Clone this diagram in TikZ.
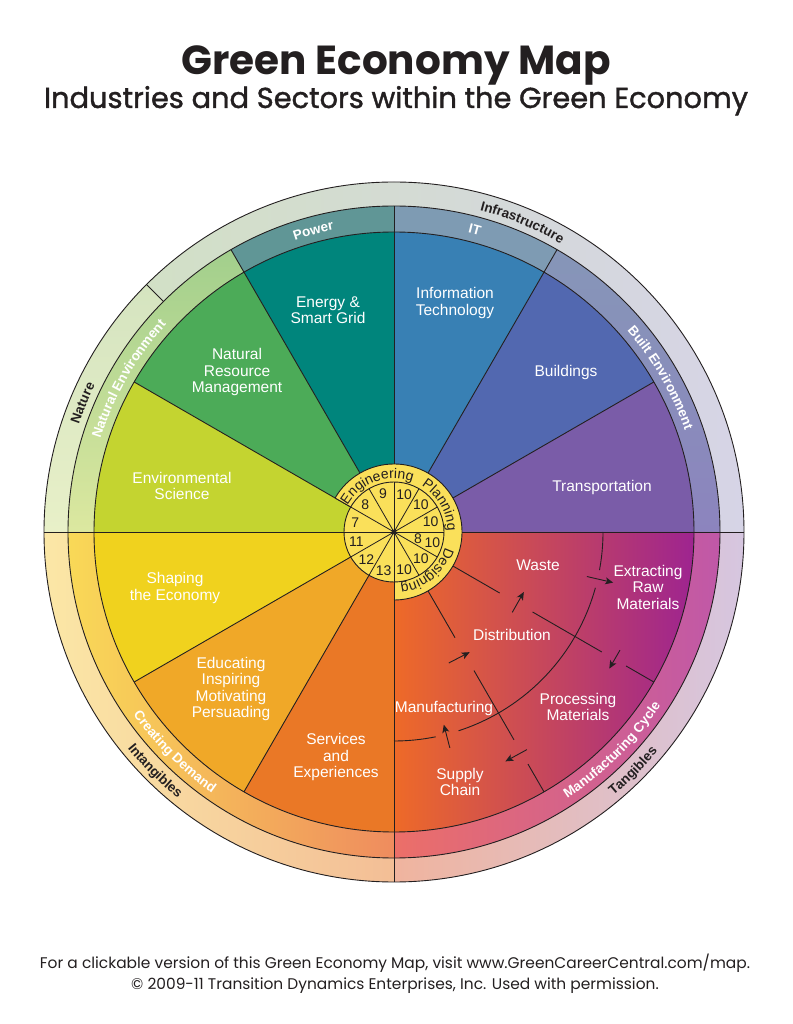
\documentclass[tikz,border=0pt]{standalone}
\usepackage{fontspec}
\setmainfont{Liberation Sans}
\newfontfamily\poppins{Poppins}
\newfontfamily\poppinsm{Poppins}[FakeBold=1.3]
\usetikzlibrary{decorations.text,arrows.meta}
\definecolor{cEnergy}{HTML}{00857C}
\definecolor{cNRM}{HTML}{4CAB58}
\definecolor{cES}{HTML}{C4D430}
\definecolor{cIT}{HTML}{3880B4}
\definecolor{cBuild}{HTML}{5268B0}
\definecolor{cTrans}{HTML}{7A5CA8}
\definecolor{cShape}{HTML}{F0D21E}
\definecolor{cEdu}{HTML}{F0A828}
\definecolor{cServ}{HTML}{EA7826}
\definecolor{cMfgL}{HTML}{EE6A28}
\definecolor{cMfgM}{HTML}{CC4458}
\definecolor{cMfgR}{HTML}{9E2490}
\definecolor{cPower}{HTML}{609696}
\definecolor{cITr}{HTML}{7E9BB3}
\definecolor{cBEt}{HTML}{8696B8}
\definecolor{cBEb}{HTML}{8C84BE}
\definecolor{cNEt}{HTML}{A2CF8C}
\definecolor{cNEb}{HTML}{DCE8A0}
\definecolor{cCDl}{HTML}{F9D957}
\definecolor{cCDr}{HTML}{EF8C5E}
\definecolor{cMCl}{HTML}{EC6F68}
\definecolor{cMCr}{HTML}{C058A8}
\definecolor{cNatT}{HTML}{D5E4C0}
\definecolor{cNatB}{HTML}{E8F0C8}
\definecolor{cInfL}{HTML}{D2E0C6}
\definecolor{cInfR}{HTML}{D6D4E6}
\definecolor{cIntL}{HTML}{FBE7A6}
\definecolor{cIntR}{HTML}{F3BE96}
\definecolor{cTanL}{HTML}{F0B49E}
\definecolor{cTanR}{HTML}{D6C6E0}
\definecolor{cYel}{HTML}{FAE05A}
\definecolor{cInk}{HTML}{231F20}
\newcommand\rfw{\bfseries\fontsize{13.5}{13.5}\selectfont\color{white}}
\newcommand\rfb{\bfseries\fontsize{13.5}{13.5}\selectfont\color{cInk}}
\newcommand\cfn{\fontsize{14}{14}\selectfont\color{cInk}}
\begin{document}
\begin{tikzpicture}[x=1pt,y=1pt,
  ln/.style={line width=0.9pt,draw=cInk},
  annsec/.style n args={4}{insert path={(#3:#2pt) arc[start angle=#3,end angle=#4,radius=#2pt] -- (#4:#1pt) arc[start angle=#4,end angle=#3,radius=#1pt] -- cycle}},
  wdg/.style n args={3}{insert path={(0,0) -- (#2:#1pt) arc[start angle=#2,end angle=#3,radius=#1pt] -- cycle}},
  wlabel/.style={text=white,align=center,font=\fontsize{15.5}{16.5}\selectfont,inner sep=0pt},
  num/.style={font=\fontsize{14}{14}\selectfont,text=cInk,inner sep=0pt},
  arctext/.style={decorate,decoration={text along path,text align=center,text={#1}}},
  cyc/.style={line width=0.9pt,draw=cInk},
  cycarrow/.style={line width=0.9pt,draw=cInk,-{Stealth[length=8pt,width=7pt,inset=2pt]}},
]
\useasboundingbox (-394,-492) rectangle (398,532);
\fill[white] (-394,-492) rectangle (398,532);
% ---- outer ring
\shade[top color=cNatT,bottom color=cNatB,annsec={326}{350}{135}{180}];
\shade[left color=cInfL,right color=cInfR,annsec={326}{350}{0}{135}];
\shade[left color=cIntL,right color=cIntR,annsec={326}{350}{180}{270}];
\shade[left color=cTanL,right color=cTanR,annsec={326}{350}{270}{360}];
% ---- inner ring
\shade[top color=cNEt,bottom color=cNEb,annsec={300}{326}{120}{180}];
\fill[cPower,annsec={300}{326}{90}{120}];
\fill[cITr,annsec={300}{326}{60}{90}];
\shade[top color=cBEt,bottom color=cBEb,annsec={300}{326}{0}{60}];
\shade[left color=cCDl,right color=cCDr,annsec={300}{326}{180}{270}];
\shade[left color=cMCl,right color=cMCr,annsec={300}{326}{270}{360}];
% ---- wedges
\fill[cEnergy,wdg={300}{90}{120}];
\fill[cNRM,wdg={300}{120}{150}];
\fill[cES,wdg={300}{150}{180}];
\fill[cIT,wdg={300}{60}{90}];
\fill[cBuild,wdg={300}{30}{60}];
\fill[cTrans,wdg={300}{0}{30}];
\fill[cShape,wdg={300}{180}{210}];
\fill[cEdu,wdg={300}{210}{240}];
\fill[cServ,wdg={300}{240}{270}];
\shade[left color=cMfgL,middle color=cMfgM,right color=cMfgR,wdg={300}{270}{360}];
% ---- outlines
\draw[ln] (0,0) circle[radius=300pt];
\draw[ln] (0,0) circle[radius=326pt];
\draw[ln] (0,0) circle[radius=350pt];
\draw[ln] (180:350pt) -- (0:350pt);
\draw[ln] (0,0) -- (270:350pt);
\draw[ln] (0,0) -- (90:326pt);
\foreach \a in {60,120} \draw[ln] (0,0) -- (\a:326pt);
\foreach \a in {30,150,210,240} \draw[ln] (0,0) -- (\a:300pt);
\draw[ln] (135:326pt) -- (135:350pt);
% ---- manufacturing cycle
\foreach \a in {-30,-60} {
  \draw[cyc] (\a:68pt) -- (\a:122pt);
  \draw[cyc] (\a:160pt) -- (\a:240pt);
  \draw[cyc] (\a:268pt) -- (\a:300pt);
}
\draw[cyc] (0:209pt) arc[start angle=0,end angle=-10.5,radius=209pt];
\draw[cyc] (-15.5:209pt) arc[start angle=-15.5,end angle=-72,radius=209pt];
\draw[cyc] (-78.5:209pt) arc[start angle=-78.5,end angle=-90,radius=209pt];
\draw[cycarrow] (-13:198pt) -- (-13:225pt);
\draw[cycarrow] (-75.5:223pt) -- (-75.5:199pt);
\draw[cycarrow] (-34.2:143pt) -- (-24.8:143pt);
\draw[cycarrow] (-67.3:142pt) -- (-57.8:142pt);
\draw[cycarrow] (-27.6:255pt) -- (-32.4:255pt);
\draw[cycarrow] (-58.6:255pt) -- (-64.1:255pt);
% ---- centre
\fill[cYel,annsec={50}{68}{-90}{150}];
\draw[ln] (-90:68pt) arc[start angle=-90,end angle=150,radius=68pt];
\draw[ln] (150:50pt) -- (150:68pt);
\draw[ln] (-90:50pt) -- (-90:68pt);
\filldraw[fill=cYel,ln] (0,0) circle[radius=50pt];
\foreach \a in {0,30,...,330} \draw[line width=0.8pt,cInk] (0,0) -- (\a:50pt);
\fill[cInk] (0,0) circle[radius=2.4pt];
\node[num] (n1) at (106:40pt) {9};
\node[num] (n2) at (136:40pt) {8};
\node[num] (n3) at (166:40pt) {7};
\node[num] (n4) at (75:39pt) {10};
\node[num] (n5) at (45:38pt) {10};
\node[num] (n6) at (15:38pt) {10};
\node[num] (n7) at (195:39pt) {11};
\node[num] (n8) at (225:39pt) {12};
\node[num] (n9) at (255:40pt) {13};
\node[num] (n10) at (-16:25pt) {8};
\node[num] (n11) at (-16:40pt) {10};
\node[num] (n12) at (-45:38pt) {10};
\node[num] (n13) at (-75:39pt) {10};
\path[arctext={|\cfn|Engineering}] (150:53.5pt) arc[start angle=150,end angle=70,radius=53.5pt];
\path[arctext={|\cfn|Planning}] (70:53.5pt) arc[start angle=70,end angle=-10,radius=53.5pt];
\path[arctext={|\cfn|Designing}] (-10:53.5pt) arc[start angle=-10,end angle=-90,radius=53.5pt];
% ---- ring texts
\path[arctext={|\rfw|Power}] (120:308pt) arc[start angle=120,end angle=90,radius=308pt];
\path[arctext={|\rfw|IT}] (90:308pt) arc[start angle=90,end angle=60,radius=308pt];
\path[arctext={|\rfw|Natural Environment}] (180:308pt) arc[start angle=180,end angle=120,radius=308pt];
\path[arctext={|\rfw|Built Environment}] (60:308pt) arc[start angle=60,end angle=0,radius=308pt];
\path[arctext={|\rfw|Creating Demand}] (180:318pt) arc[start angle=180,end angle=270,radius=318pt];
\path[arctext={|\rfw|Manufacturing Cycle}] (270:318pt) arc[start angle=270,end angle=360,radius=318pt];
\path[arctext={|\rfb|Nature}] (180:333pt) arc[start angle=180,end angle=135,radius=333pt];
\path[arctext={|\rfb|Infrastructure}] (135:333pt) arc[start angle=135,end angle=0,radius=333pt];
\path[arctext={|\rfb|Intangibles}] (180:343pt) arc[start angle=180,end angle=270,radius=343pt];
\path[arctext={|\rfb|Tangibles}] (270:343pt) arc[start angle=270,end angle=360,radius=343pt];
% ---- wedge labels
\node[wlabel] (energy) at (-66,222) {Energy \&\\Smart Grid};
\node[wlabel] (nrm) at (-157,160) {Natural\\Resource\\Management};
\node[wlabel] (es) at (-212,46) {Environmental\\Science};
\node[wlabel] (it) at (61,229) {Information\\Technology};
\node[wlabel] (build) at (172,160) {Buildings};
\node[wlabel] (trans) at (208,45) {Transportation};
\node[wlabel] (shape) at (-219,-56) {Shaping\\the Economy};
\node[wlabel] (edu) at (-163,-157) {Educating\\Inspiring\\Motivating\\Persuading};
\node[wlabel] (serv) at (-58,-225) {Services\\and\\Experiences};
\node[wlabel] (waste) at (144,-33) {Waste};
\node[wlabel] (extract) at (254,-55) {Extracting\\Raw\\Materials};
\node[wlabel] (distr) at (118,-103) {Distribution};
\node[wlabel] (proc) at (184,-175) {Processing\\Materials};
\node[wlabel] (manuf) at (50,-176) {Manufacturing};
\node[wlabel] (supply) at (66,-250) {Supply\\Chain};
% ---- titles
\node[anchor=base,inner sep=0pt,text=cInk] (title) at (2,457) {\resizebox{429pt}{!}{\poppins\bfseries Green Economy Map}};
\node[anchor=base,inner sep=0pt,text=cInk] (subtitle) at (2,424) {\resizebox{704pt}{!}{\poppinsm Industries and Sectors within the Green Economy}};
\node[anchor=north,inner sep=0pt,text=cInk] (footer) at (1,-422) {\resizebox{710pt}{!}{\poppins\fontsize{14}{19}\selectfont\begin{tabular}{@{}c@{}}For a clickable version of this Green Economy Map, visit www.GreenCareerCentral.com/map.\\ © 2009-11 Transition Dynamics Enterprises, Inc. Used with permission.\end{tabular}}};
\end{tikzpicture}
\end{document}
